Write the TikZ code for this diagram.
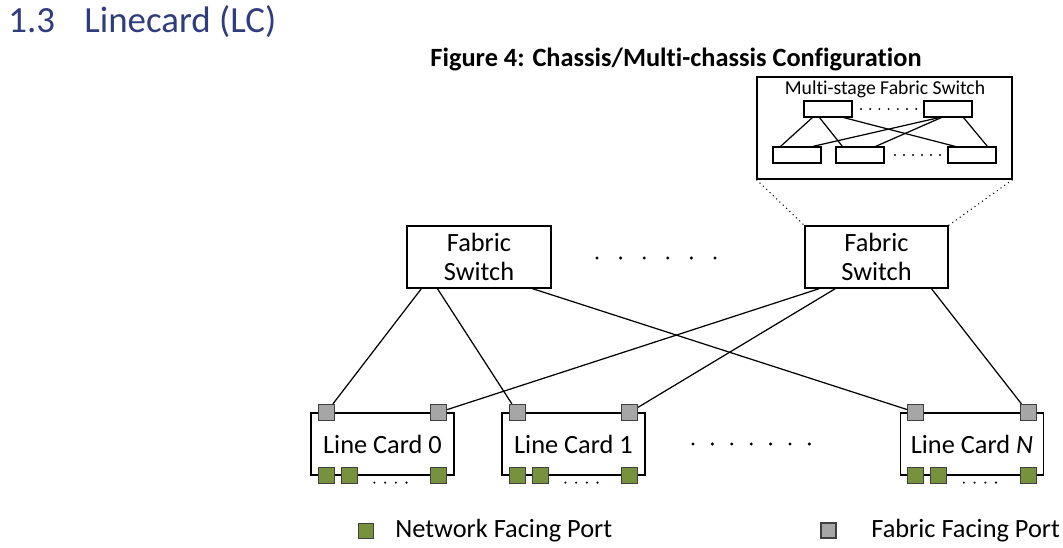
\documentclass[tikz,border=0pt]{standalone}
\usepackage{fontspec}
\setmainfont{Carlito}[Ligatures={TeX,NoCommon}]
\usetikzlibrary{calc,positioning}
\definecolor{headblue}{RGB}{47,60,125}
\definecolor{portgreen}{RGB}{118,146,60}
\definecolor{portgray}{RGB}{166,166,166}

\begin{document}
\begin{tikzpicture}[x=0.02cm, y=-0.02cm, every node/.style={font=\fontsize{15}{17}\selectfont}]
\tikzset{box/.style={draw, line width=0.7pt, fill=white, inner sep=0pt, align=center},
  port/.style={draw=black!75, line width=0.6pt, inner sep=0pt, minimum size=0.32cm},
  fport/.style={port, fill=portgray},
  nport/.style={port, fill=portgreen},
  link/.style={line width=0.7pt},
  stage/.style={draw, line width=0.6pt, fill=white, inner sep=0pt, minimum width=0.96cm, minimum height=0.32cm}}
\useasboundingbox (0,0) rectangle (1063,548);

% heading and caption
\node[anchor=base west, inner sep=0pt, text=headblue, font=\fontsize{21}{24}\selectfont] (secnum) at (8,32) {1.3};
\node[anchor=base west, inner sep=0pt, text=headblue, font=\fontsize{21}{24}\selectfont] (sechead) at (84,32) {Linecard (LC)};
\node[anchor=base, inner sep=0pt, font=\bfseries\fontsize{15}{17}\selectfont] (caption) at (676,66) {Figure 4: Chassis/Multi-chassis Configuration};

% multi-stage fabric switch
\node[box, minimum width=5.1cm, minimum height=2.04cm] (ms) at (884.5,128) {};
\node[anchor=base, inner sep=0pt, font=\fontsize{11.2}{13}\selectfont] (mstitle) at (885,94) {Multi-stage Fabric Switch};
\node[stage] (t1) at (828,109) {};
\node[stage] (t2) at (948,109) {};
\node[stage] (b1) at (797,155) {};
\node[stage] (b2) at (860,155) {};
\node[stage] (b3) at (972,155) {};
\draw[link] ($(t1.south west)+(9,0)$) -- ($(b1.north west)+(8,0)$);
\draw[link] ($(t1.south west)+(16,0)$) -- ($(b2.north west)+(7,0)$);
\draw[link] ($(t1.south west)+(40,0)$) -- ($(b3.north west)+(8,0)$);
\draw[link] ($(t2.south west)+(16,0)$) -- ($(b1.north west)+(40,0)$);
\draw[link] ($(t2.south west)+(18,0)$) -- ($(b2.north west)+(40,0)$);
\draw[link] ($(t2.south west)+(40,0)$) -- ($(b3.north west)+(40,0)$);
\foreach \k in {0,...,6} \fill (861+\k*9.2,109) circle (0.6pt);
\foreach \k in {0,...,5} \fill (895+\k*9,155) circle (0.6pt);

% fabric switches
\node[box, minimum width=2.88cm, minimum height=1.24cm] (fs1) at (479,257) {Fabric\\Switch};
\node[box, minimum width=2.86cm, minimum height=1.24cm] (fs2) at (876.5,257) {Fabric\\Switch};
\foreach \k in {0,...,5} \fill (597+\k*23.6,258) circle (0.95pt);
\draw[dotted, line width=0.6pt] (ms.south west) -- (fs2.north west);
\draw[dotted, line width=0.6pt] (ms.south east) -- (fs2.north east);

% line cards
\foreach \c/\x/\t in {0/382.5/{Line Card 0}, 1/573.5/{Line Card 1}, n/972/{Line Card \textit{N}}} {
  \node[box, minimum width=2.86cm, minimum height=1.24cm] (lc\c) at (\x,444) {\t};
  \node[fport] (fa\c) at ($(lc\c.north west)+(16,0)$) {};
  \node[fport] (fb\c) at ($(lc\c.north east)+(-16,0)$) {};
  \node[nport] (na\c) at ($(lc\c.south west)+(16,0)$) {};
  \node[nport] (nb\c) at ($(lc\c.south west)+(39,0)$) {};
  \node[nport] (nc\c) at ($(lc\c.south east)+(-16,0)$) {};
  \foreach \k in {0,...,3} \fill ($(lc\c.south west)+(64+\k*10.7,7)$) circle (0.65pt);
}
\foreach \k in {0,...,6} \fill (693+\k*19.4,444) circle (0.95pt);

% links
\draw[link] ($(fs1.south west)+(15,0)$) -- (fa0);
\draw[link] ($(fs1.south west)+(31,0)$) -- (fa1);
\draw[link] ($(fs1.south west)+(126,0)$) -- (fan);
\draw[link] ($(fs2.south west)+(15,0)$) -- (fb0);
\draw[link] ($(fs2.south west)+(31,0)$) -- (fb1);
\draw[link] ($(fs2.south west)+(127,0)$) -- (fbn);

% legend
\node[nport, minimum size=0.3cm] (keynet) at (366,531) {};
\node[anchor=west, inner sep=0pt] (keynettext) at (395,531) {Network Facing Port};
\node[fport, minimum size=0.3cm] (keyfab) at (828.5,530.5) {};
\node[anchor=west, inner sep=0pt] (keyfabtext) at (871,531) {Fabric Facing Port};
\end{tikzpicture}
\end{document}
